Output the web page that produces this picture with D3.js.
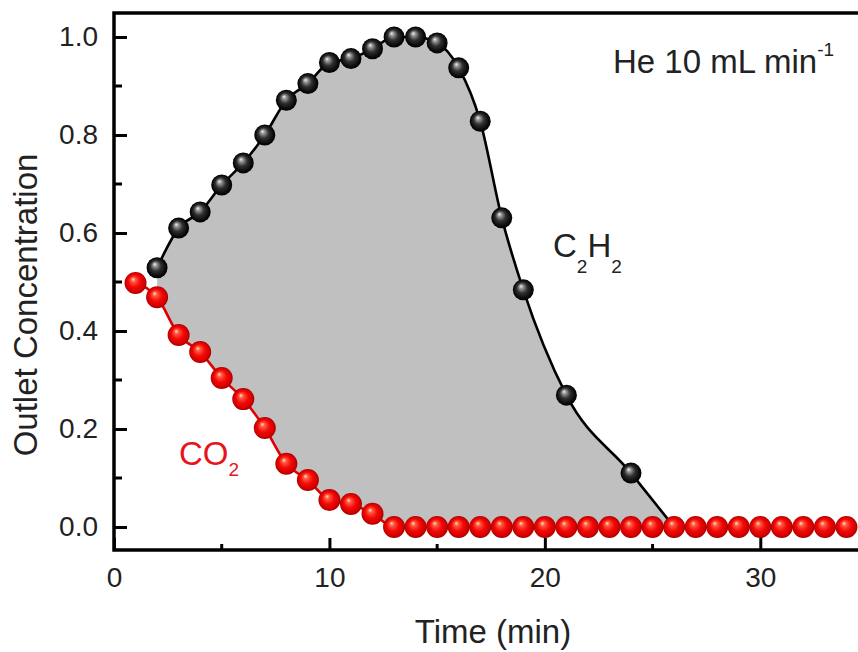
<!DOCTYPE html>
<html>
<head>
<meta charset="utf-8">
<script src="https://cdn.jsdelivr.net/npm/d3@7"></script>
<style>
  html, body { margin: 0; padding: 0; background: #fff; }
  svg { display: block; }
  text { font-family: "Liberation Sans", Arial, sans-serif; fill: #222; }
</style>
</head>
<body>
<svg id="chart" width="858" height="652"></svg>
<script>
// ---- data ----
const xTickValues = [0, 10, 20, 30];
const xTickLabels = ["0", "10", "20", "30"];
const yTickValues = [0.0, 0.2, 0.4, 0.6, 0.8, 1.0];
const yTickLabels = ["0.0", "0.2", "0.4", "0.6", "0.8", "1.0"];

const c2h2Time = [2, 3, 4, 5, 6, 7, 8, 9, 10, 11, 12, 13, 14, 15, 16, 17, 18, 19, 21, 24, 26];
const c2h2Conc = [0.529, 0.61, 0.643, 0.698, 0.743, 0.80, 0.871, 0.905, 0.948, 0.956, 0.976, 1.0, 1.0, 0.988, 0.937, 0.828, 0.631, 0.484, 0.269, 0.110, 0.0];

const co2Time = [1, 2, 3, 4, 5, 6, 7, 8, 9, 10, 11, 12, 13, 14, 15, 16, 17, 18, 19, 20, 21, 22, 23, 24, 25, 26, 27, 28, 29, 30, 31, 32, 33, 34];
const co2Conc = [0.498, 0.469, 0.392, 0.357, 0.304, 0.261, 0.202, 0.129, 0.096, 0.055, 0.047, 0.027, 0, 0, 0, 0, 0, 0, 0, 0, 0, 0, 0, 0, 0, 0, 0, 0, 0, 0, 0, 0, 0, 0];

// ---- layout ----
const svg = d3.select("#chart");
const frame = { left: 114, right: 868, top: 13, bottom: 550 };
const x = d3.scaleLinear().domain([0, 35]).range([114, 868]);
const y = d3.scaleLinear().domain([0, 1]).range([527, 37]);

const c2h2 = c2h2Time.map((t, i) => ({ t, v: c2h2Conc[i] }));
const co2 = co2Time.map((t, i) => ({ t, v: co2Conc[i] }));

// gradients
const defs = svg.append("defs");
function sphere(id, stops) {
  const g = defs.append("radialGradient").attr("id", id)
    .attr("cx", "50%").attr("cy", "50%").attr("r", "50%")
    .attr("fx", "38%").attr("fy", "32%");
  stops.forEach(s => g.append("stop").attr("offset", s[0]).attr("stop-color", s[1]));
}
sphere("gBlack", [["0%", "#f4f4f4"], ["18%", "#9a9a9a"], ["50%", "#303030"], ["85%", "#0a0a0a"], ["100%", "#000"]]);
sphere("gRed", [["0%", "#ffe6cc"], ["20%", "#ff5a40"], ["55%", "#f40808"], ["88%", "#d00000"], ["100%", "#a00000"]]);

// ---- fill between curves ----
const lineGen = d3.line().x(d => x(d.t)).y(d => y(d.v)).curve(d3.curveMonotoneX);
const tStart = c2h2Time[0], tEnd = c2h2Time[c2h2Time.length - 1];
const redPart = co2.filter(d => d.t >= tStart && d.t <= tEnd).reverse();
const redPartForCurve = redPart.map(d => ({ t: -d.t, v: d.v }));
const lineRev = d3.line().x(d => x(-d.t)).y(d => y(d.v)).curve(d3.curveMonotoneX);
const areaPath = lineGen(c2h2) + lineRev(redPartForCurve).replace(/^M/, "L") + "Z";
svg.append("path").attr("d", areaPath).attr("fill", "#c0c0c0").attr("stroke", "none");

// ---- frame and axes ----
svg.append("rect")
  .attr("x", frame.left).attr("y", frame.top)
  .attr("width", frame.right - frame.left).attr("height", frame.bottom - frame.top)
  .attr("fill", "none").attr("stroke", "#000").attr("stroke-width", 3.5);

// x axis ticks (inward)
const xAxis = d3.axisBottom(x).tickValues(xTickValues).tickFormat((d, i) => xTickLabels[i]).tickSize(-12).tickPadding(26);
const gx = svg.append("g").attr("transform", `translate(0,${frame.bottom})`).call(xAxis);
gx.select(".domain").remove();
gx.selectAll(".tick line").attr("stroke", "#000").attr("stroke-width", 3);
gx.selectAll(".tick text").attr("font-size", 28).attr("fill", "#222").attr("dy", "0.4em");
const xMinor = [5, 15, 25];
svg.append("g").selectAll("line").data(xMinor).join("line")
  .attr("x1", d => x(d)).attr("x2", d => x(d))
  .attr("y1", frame.bottom).attr("y2", frame.bottom - 6)
  .attr("stroke", "#000").attr("stroke-width", 3);

// y axis
const yAxis = d3.axisLeft(y).tickValues(yTickValues).tickFormat((d, i) => yTickLabels[i]).tickSize(-13).tickPadding(16);
const gy = svg.append("g").attr("transform", `translate(${frame.left},0)`).call(yAxis);
gy.select(".domain").remove();
gy.selectAll(".tick line").attr("stroke", "#000").attr("stroke-width", 3);
gy.selectAll(".tick text").attr("font-size", 28).attr("fill", "#222");
const yMinor = [0.1, 0.3, 0.5, 0.7, 0.9];
svg.append("g").selectAll("line").data(yMinor).join("line")
  .attr("x1", frame.left).attr("x2", frame.left + 8)
  .attr("y1", d => y(d)).attr("y2", d => y(d))
  .attr("stroke", "#000").attr("stroke-width", 3);

// axis titles
svg.append("text").attr("x", 493).attr("y", 643).attr("text-anchor", "middle")
  .attr("font-size", 33).text("Time (min)");
svg.append("text").attr("transform", "translate(37,305) rotate(-90)").attr("text-anchor", "middle")
  .attr("font-size", 33).text("Outlet Concentration");

// ---- lines & markers ----
svg.append("path").attr("d", lineGen(c2h2)).attr("fill", "none").attr("stroke", "#000").attr("stroke-width", 2.6);
svg.append("g").selectAll("circle").data(c2h2).join("circle")
  .attr("cx", d => x(d.t)).attr("cy", d => y(d.v)).attr("r", 10.5)
  .attr("fill", "url(#gBlack)");

svg.append("path").attr("d", lineGen(co2)).attr("fill", "none").attr("stroke", "#e00000").attr("stroke-width", 2.6);
svg.append("g").selectAll("circle").data(co2).join("circle")
  .attr("cx", d => x(d.t)).attr("cy", d => y(d.v)).attr("r", 11)
  .attr("fill", "url(#gRed)");

// ---- annotations ----
const he = svg.append("text").attr("x", 613).attr("y", 73).attr("font-size", 33);
he.append("tspan").text("He 10 mL min");
he.append("tspan").attr("font-size", 19).attr("dy", -17).text("-1");

const c2 = svg.append("text").attr("x", 553).attr("y", 257).attr("font-size", 33);
c2.append("tspan").text("C");
c2.append("tspan").attr("font-size", 19).attr("dy", 16).text("2");
c2.append("tspan").attr("dy", -16).text("H");
c2.append("tspan").attr("font-size", 19).attr("dy", 16).text("2");

const co = svg.append("text").attr("x", 179).attr("y", 465).attr("font-size", 33).style("fill", "#e8141c");
co.append("tspan").text("CO");
co.append("tspan").attr("font-size", 19).attr("dy", 11).text("2");
</script>
</body>
</html>
